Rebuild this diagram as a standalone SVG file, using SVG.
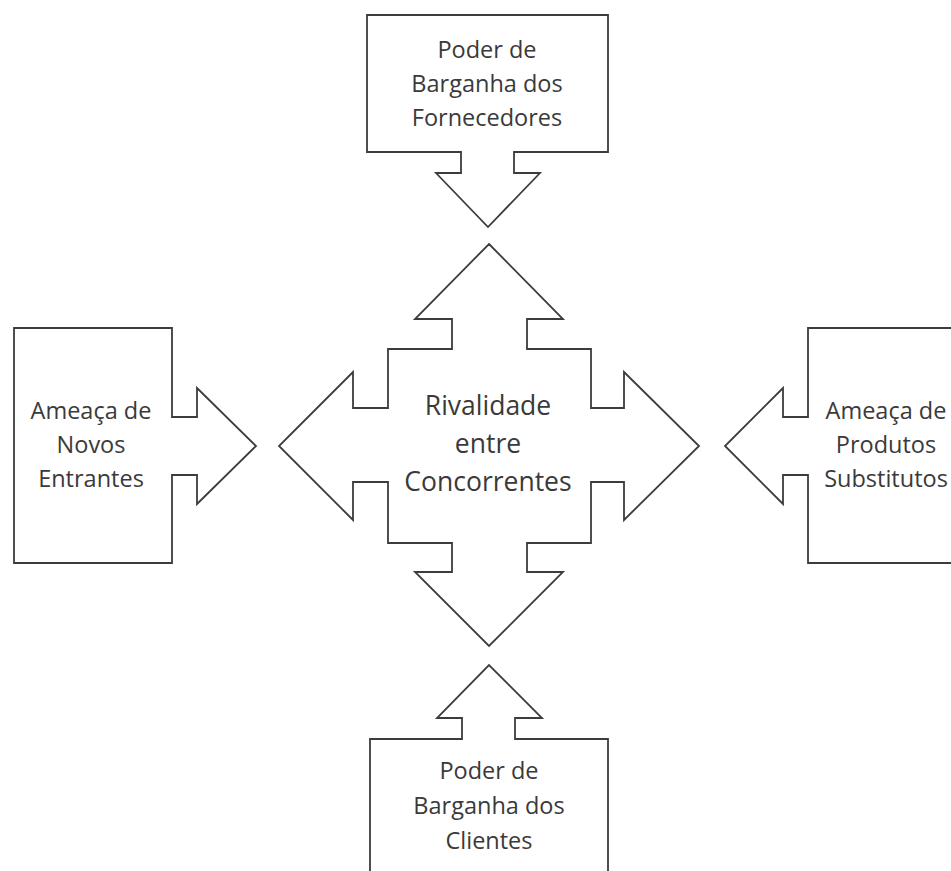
<svg xmlns="http://www.w3.org/2000/svg" width="951" height="871" viewBox="0 0 951 871">
<style>
.shape{fill:#ffffff;stroke:#3c3c3c;stroke-width:1.8;stroke-linejoin:miter}
.t{font-family:"Open Sans","Noto Sans",sans-serif;font-size:23.5px;fill:#3a3a3a;text-anchor:middle}
.tc{font-family:"Open Sans","Noto Sans",sans-serif;font-size:26.5px;fill:#3a3a3a;text-anchor:middle}
</style>
<rect width="951" height="871" fill="#ffffff"/>
<g id="connectors"></g>
<g id="fornecedores">
<path class="shape" d="M367,15 H608 V152 H514 V173 H540 L488,227 L436,173 H461 V152 H367 Z"/>
<text class="t" x="487" y="58">Poder de</text>
<text class="t" x="487" y="92">Barganha dos</text>
<text class="t" x="487" y="126">Fornecedores</text>
</g>
<g id="entrantes">
<path class="shape" d="M14,328 H172 V417 H197 V388 L256,446 L197,504 V475 H172 V563 H14 Z"/>
<text class="t" x="91" y="419">Ameaça de</text>
<text class="t" x="91" y="453">Novos</text>
<text class="t" x="91" y="487">Entrantes</text>
</g>
<g id="substitutos">
<path class="shape" d="M966,328 H808 V417 H783 V388 L725,446 L783,504 V475 H808 V563 H966 Z"/>
<text class="t" x="886" y="419">Ameaça de</text>
<text class="t" x="886" y="453">Produtos</text>
<text class="t" x="886" y="487">Substitutos</text>
</g>
<g id="clientes">
<path class="shape" d="M370,885 V739 H462 V718 H437 L489,665 L542,718 H515 V739 H608 V885"/>
<text class="t" x="489" y="779">Poder de</text>
<text class="t" x="489" y="814">Barganha dos</text>
<text class="t" x="489" y="849">Clientes</text>
</g>
<g id="rivalidade">
<path class="shape" d="M489,244 L563,319 H527 V349 H591 V408 H624 V372 L699,446 L624,520 V482 H591 V543 H527 V572 H563 L489,646 L415,572 H452 V543 H388 V482 H353 V520 L279,446 L353,372 V408 H388 V349 H452 V319 H415 Z"/>
<text class="tc" x="488" y="415">Rivalidade</text>
<text class="tc" x="488" y="453">entre</text>
<text class="tc" x="488" y="491">Concorrentes</text>
</g>
</svg>
